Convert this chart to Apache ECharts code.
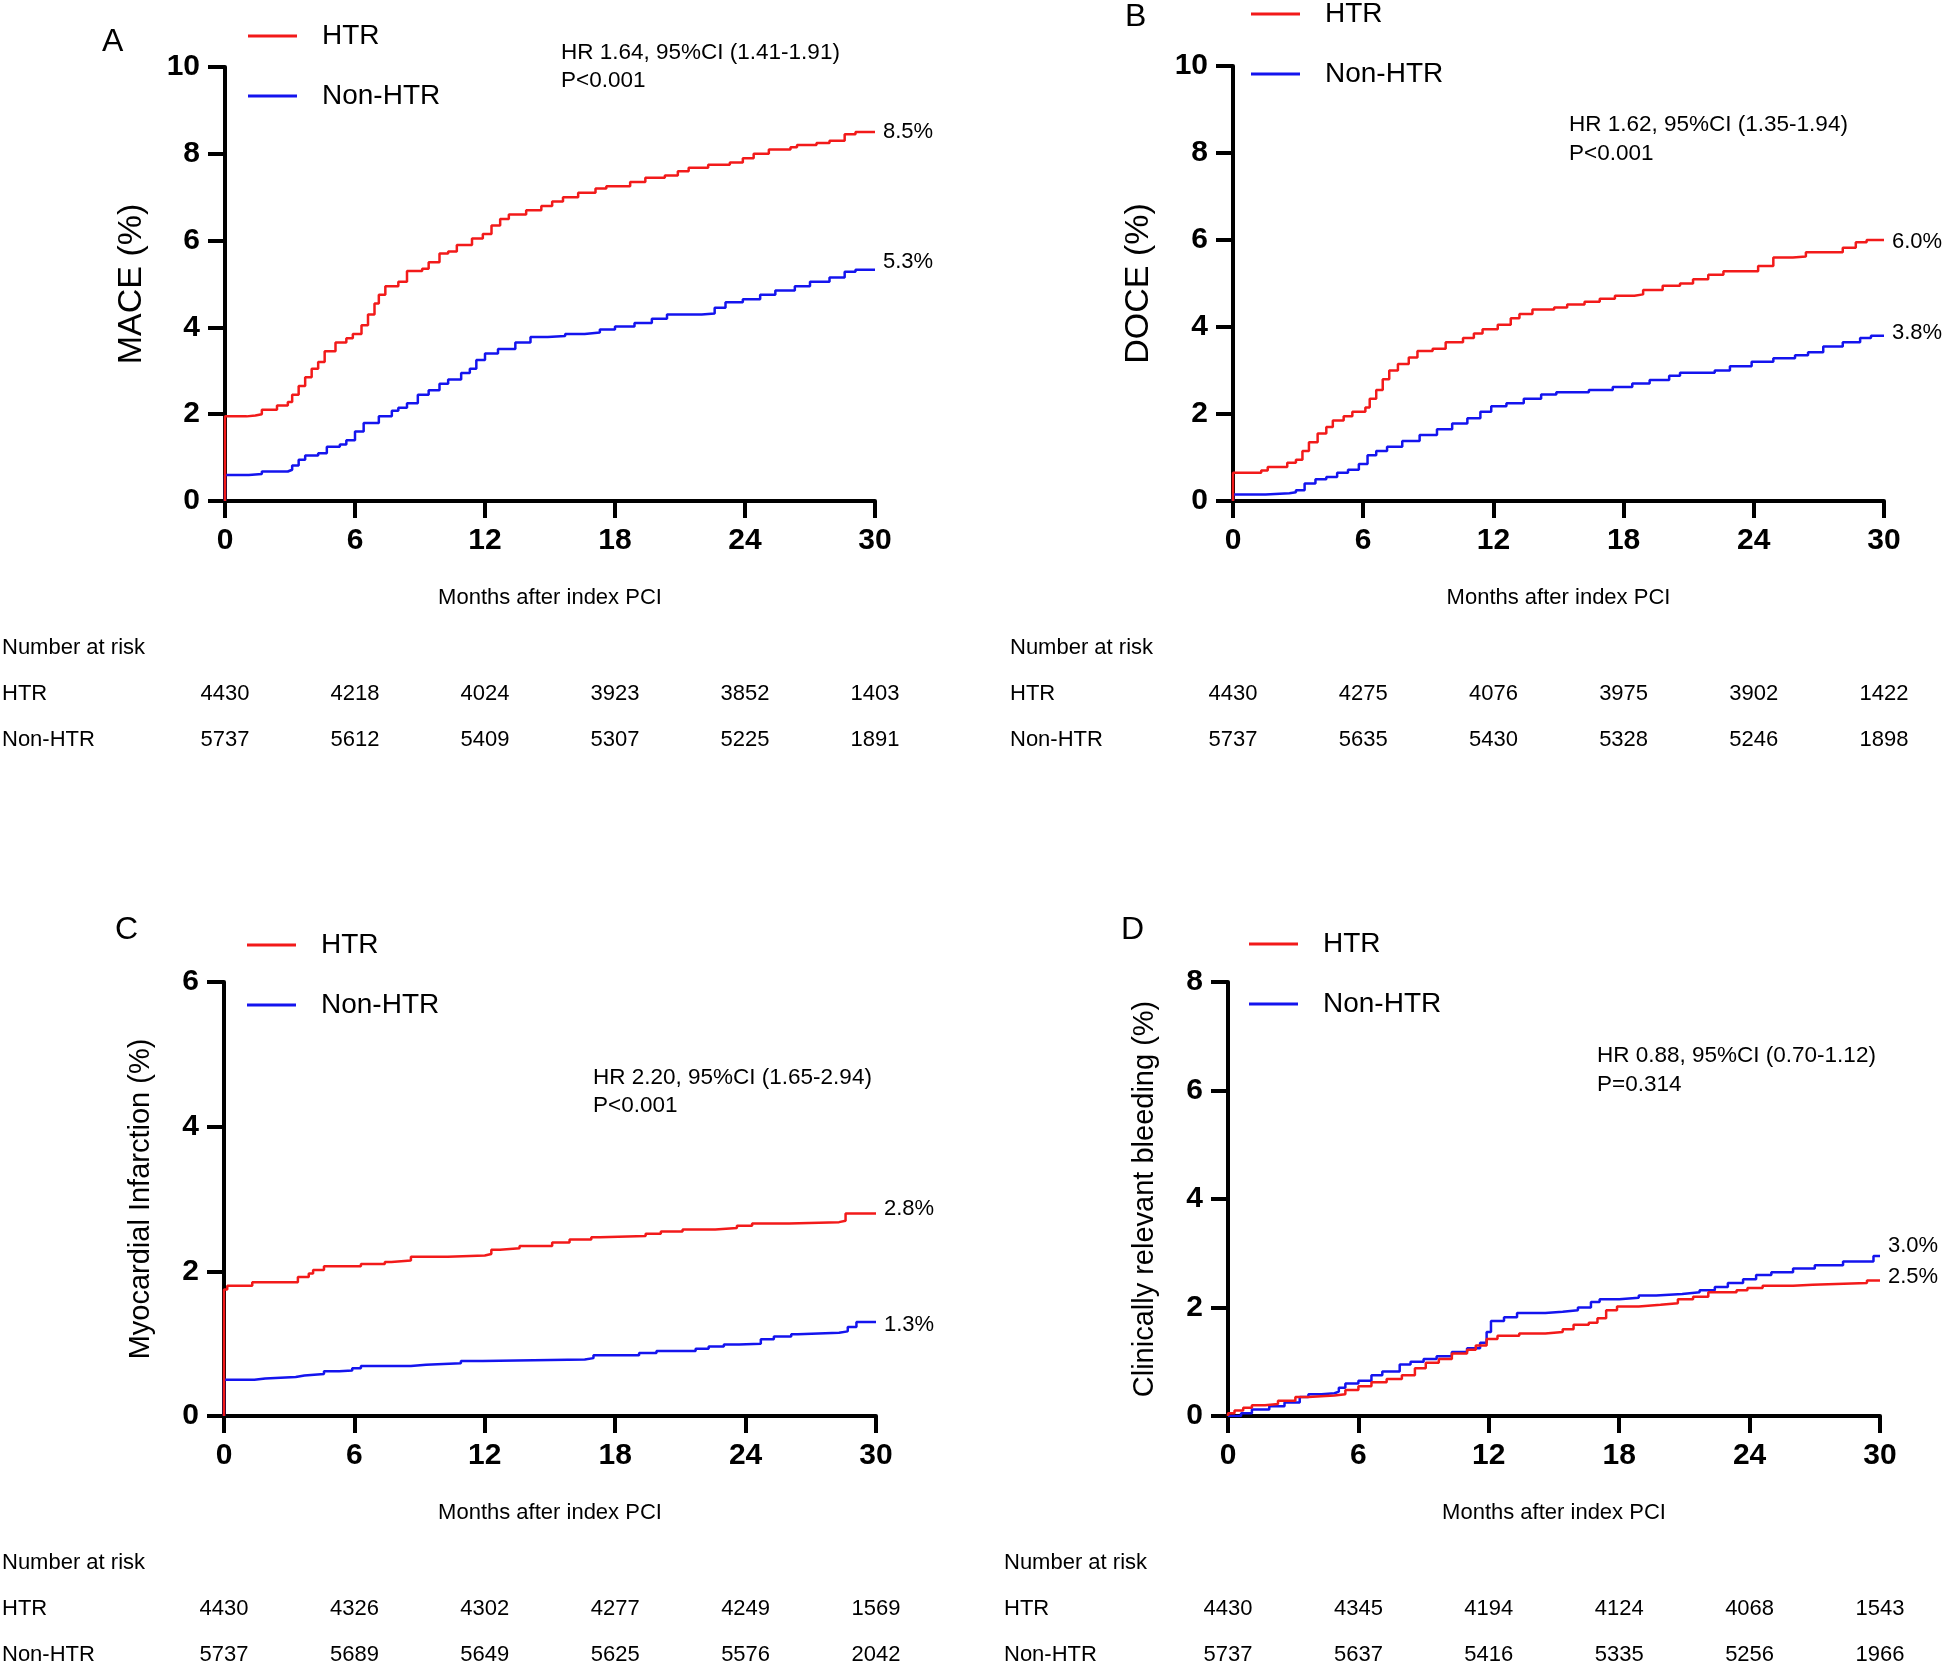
<!DOCTYPE html>
<html><head><meta charset="utf-8">
<script src="https://cdn.jsdelivr.net/npm/echarts@6/dist/echarts.min.js"></script>
<style>html,body{margin:0;padding:0;background:#fff}#c{width:1946px;height:1667px}</style>
</head><body><div id="c"></div>
<script>
// ---------------- DATA ----------------
const monthTicks = [0, 6, 12, 18, 24, 30];
const groups = ['HTR', 'Non-HTR'];

const maceHTR = [[0,0],[0,1.95],[1.0,1.97],[1.4,2.0],[1.7,2.1],[2.4,2.2],[2.9,2.28],[3.1,2.45],[3.4,2.65],[3.7,2.85],[4.0,3.05],[4.3,3.2],[4.6,3.45],[5.1,3.65],[5.6,3.75],[5.9,3.85],[6.3,4.05],[6.6,4.3],[6.9,4.55],[7.1,4.75],[7.4,4.95],[8.0,5.05],[8.4,5.3],[9.1,5.35],[9.4,5.5],[9.9,5.7],[10.3,5.75],[10.7,5.9],[11.4,6.05],[11.9,6.15],[12.3,6.35],[12.7,6.5],[13.1,6.6],[13.9,6.7],[14.6,6.8],[15.1,6.9],[15.6,7.0],[16.3,7.1],[17.1,7.2],[17.6,7.25],[18.7,7.35],[19.4,7.45],[20.3,7.5],[20.9,7.6],[21.4,7.68],[22.3,7.75],[23.3,7.8],[23.9,7.9],[24.4,8.0],[25.1,8.1],[26.1,8.15],[26.4,8.2],[27.3,8.25],[27.9,8.3],[28.6,8.45],[29.1,8.5],[30,8.5]];
const maceNon = [[0,0],[0,0.6],[1.1,0.62],[1.7,0.68],[2.9,0.72],[3.1,0.82],[3.4,0.95],[3.7,1.05],[4.3,1.1],[4.7,1.25],[5.3,1.3],[5.6,1.4],[6.0,1.6],[6.4,1.8],[7.1,1.95],[7.7,2.08],[8.0,2.15],[8.4,2.25],[8.9,2.45],[9.4,2.55],[9.9,2.7],[10.3,2.8],[10.9,2.95],[11.3,3.05],[11.6,3.25],[12.0,3.4],[12.6,3.5],[13.4,3.65],[14.1,3.78],[14.9,3.8],[15.7,3.85],[16.6,3.88],[17.3,3.95],[18.0,4.02],[18.9,4.1],[19.7,4.2],[20.4,4.3],[22.0,4.32],[22.6,4.45],[23.1,4.58],[23.9,4.65],[24.7,4.75],[25.4,4.85],[26.3,4.95],[27.0,5.05],[27.9,5.15],[28.6,5.28],[29.1,5.33],[30,5.33]];

const doceHTR = [[0,0],[0,0.65],[1.3,0.7],[1.6,0.78],[2.5,0.88],[2.9,0.95],[3.2,1.15],[3.5,1.35],[3.9,1.55],[4.3,1.7],[4.6,1.85],[5.1,1.95],[5.5,2.05],[6.1,2.15],[6.3,2.35],[6.6,2.55],[6.9,2.8],[7.2,3.0],[7.6,3.15],[8.1,3.3],[8.5,3.45],[9.2,3.5],[9.8,3.65],[10.6,3.75],[11.1,3.85],[11.5,3.95],[12.2,4.05],[12.8,4.2],[13.2,4.3],[13.8,4.4],[14.8,4.45],[15.4,4.52],[16.2,4.58],[16.9,4.65],[17.6,4.72],[18.5,4.75],[18.9,4.85],[19.8,4.95],[20.6,5.0],[21.2,5.1],[21.9,5.2],[22.6,5.28],[24.2,5.4],[24.9,5.6],[25.8,5.62],[26.4,5.72],[28.1,5.82],[28.7,5.95],[29.2,6.0],[30,6.0]];
const doceNon = [[0,0],[0,0.15],[1.5,0.18],[2.6,0.2],[2.9,0.25],[3.3,0.4],[3.8,0.5],[4.3,0.55],[4.8,0.65],[5.3,0.72],[5.8,0.85],[6.2,1.05],[6.6,1.15],[7.1,1.25],[7.8,1.38],[8.6,1.52],[9.4,1.65],[10.1,1.78],[10.8,1.9],[11.4,2.05],[11.9,2.18],[12.6,2.25],[13.4,2.35],[14.2,2.45],[14.9,2.5],[16.4,2.55],[17.5,2.62],[18.4,2.7],[19.2,2.78],[20.1,2.88],[20.6,2.95],[22.2,3.0],[22.9,3.1],[23.9,3.2],[24.9,3.28],[25.9,3.35],[26.5,3.42],[27.2,3.55],[28.1,3.65],[28.9,3.75],[29.4,3.8],[30,3.8]];

const miHTR = [[0,0],[0,1.75],[0.15,1.8],[1.3,1.85],[3.4,1.92],[3.9,1.97],[4.1,2.02],[4.6,2.07],[6.3,2.1],[7.4,2.13],[7.7,2.15],[8.6,2.2],[10.3,2.22],[12.0,2.24],[12.3,2.3],[12.7,2.32],[13.6,2.35],[15.1,2.4],[15.9,2.44],[16.9,2.47],[17.3,2.49],[19.4,2.52],[20.1,2.55],[21.1,2.58],[22.6,2.6],[23.6,2.63],[24.3,2.66],[26.0,2.68],[28.3,2.7],[28.6,2.8],[30,2.8]];
const miNon = [[0,0],[0,0.5],[1.4,0.52],[1.9,0.54],[3.3,0.56],[3.7,0.58],[4.6,0.62],[5.3,0.63],[5.9,0.66],[6.3,0.69],[8.6,0.71],[9.3,0.73],[10.9,0.76],[11.9,0.78],[16.6,0.8],[17.0,0.84],[19.1,0.87],[19.9,0.9],[21.7,0.93],[22.3,0.96],[23.0,0.99],[23.7,1.0],[24.7,1.06],[25.3,1.1],[26.1,1.13],[26.4,1.15],[28.3,1.17],[28.7,1.23],[29.1,1.3],[30,1.3]];

const bleedHTR = [[0,0],[0,0.05],[0.3,0.1],[0.7,0.15],[1.1,0.2],[1.7,0.22],[2.3,0.28],[3.1,0.35],[3.7,0.38],[4.9,0.4],[5.4,0.48],[6.0,0.55],[6.6,0.62],[7.3,0.68],[8.0,0.75],[8.6,0.88],[9.1,0.98],[9.7,1.05],[10.3,1.15],[11.0,1.22],[11.4,1.3],[11.9,1.42],[12.4,1.48],[13.4,1.52],[14.6,1.55],[15.4,1.6],[15.9,1.68],[16.6,1.72],[17.0,1.8],[17.4,1.95],[17.9,2.02],[18.9,2.05],[19.9,2.08],[20.7,2.15],[21.4,2.2],[22.1,2.28],[23.4,2.32],[23.9,2.36],[24.6,2.4],[26.0,2.42],[26.9,2.45],[29.4,2.5],[30,2.5]];
const bleedNon = [[0,0],[0.6,0.05],[1.1,0.12],[1.9,0.18],[2.6,0.25],[3.3,0.35],[3.7,0.4],[4.3,0.42],[4.9,0.45],[5.1,0.52],[5.4,0.6],[6.0,0.65],[6.6,0.75],[7.1,0.82],[7.9,0.95],[8.4,1.0],[9.0,1.05],[9.6,1.1],[10.3,1.18],[11.0,1.25],[11.6,1.35],[11.9,1.55],[12.1,1.75],[12.7,1.82],[13.3,1.9],[14.6,1.92],[15.4,1.95],[16.1,2.0],[16.7,2.1],[17.1,2.15],[18.0,2.18],[18.9,2.22],[19.7,2.25],[20.9,2.28],[21.7,2.32],[22.4,2.38],[23.0,2.45],[23.7,2.52],[24.3,2.6],[25.0,2.65],[26.0,2.72],[27.0,2.78],[28.3,2.85],[29.7,2.95],[30,2.95]];

const riskMaceHTR = [4430, 4218, 4024, 3923, 3852, 1403];
const riskMaceNon = [5737, 5612, 5409, 5307, 5225, 1891];
const riskDoceHTR = [4430, 4275, 4076, 3975, 3902, 1422];
const riskDoceNon = [5737, 5635, 5430, 5328, 5246, 1898];
const riskMiHTR = [4430, 4326, 4302, 4277, 4249, 1569];
const riskMiNon = [5737, 5689, 5649, 5625, 5576, 2042];
const riskBleedHTR = [4430, 4345, 4194, 4124, 4068, 1543];
const riskBleedNon = [5737, 5637, 5416, 5335, 5256, 1966];

const endLabels = [['8.5%', '5.3%'], ['6.0%', '3.8%'], ['2.8%', '1.3%'], ['2.5%', '3.0%']];
const yTitles = ['MACE (%)', 'DOCE (%)', 'Myocardial Infarction (%)', 'Clinically relevant bleeding (%)'];
const yMax = [10, 10, 6, 8];
const panelLetters = ['A', 'B', 'C', 'D'];
const hrLines = [
  ['HR 1.64, 95%CI (1.41-1.91)', 'P<0.001'],
  ['HR 1.62, 95%CI (1.35-1.94)', 'P<0.001'],
  ['HR 2.20, 95%CI (1.65-2.94)', 'P<0.001'],
  ['HR 0.88, 95%CI (0.70-1.12)', 'P=0.314']
];
const xTitle = 'Months after index PCI';
const riskTitle = 'Number at risk';

// ---------------- LAYOUT ----------------
const FONT = "'Liberation Sans', Arial, sans-serif";
const RED = '#f21a1a', BLUE = '#1414ee';
const panels = [
  { grid: {left: 225, top: 67, width: 650, height: 434}, curves: [maceHTR, maceNon], risk: [riskMaceHTR, riskMaceNon],
    nameGap: 76, nameSize: 34, legend: {left: 248, top: 22}, letter: [102, 42], hr: [561, 53, 81],
    riskLeft: 2, riskY: [648, 694, 740], labOff: [[0, 0], [0, -8]] },
  { grid: {left: 1233, top: 66, width: 651, height: 435}, curves: [doceHTR, doceNon], risk: [riskDoceHTR, riskDoceNon],
    nameGap: 77, nameSize: 34, legend: {left: 1251, top: 0}, letter: [1125, 17], hr: [1569, 125, 154],
    riskLeft: 1010, riskY: [648, 694, 740], labOff: [[0, 2], [0, -3]] },
  { grid: {left: 224, top: 982, width: 652, height: 434}, curves: [miHTR, miNon], risk: [riskMiHTR, riskMiNon],
    nameGap: 69, nameSize: 29, legend: {left: 247, top: 931}, letter: [115, 930], hr: [593, 1078, 1106],
    riskLeft: 2, riskY: [1563, 1609, 1655], labOff: [[0, -5], [0, 3]] },
  { grid: {left: 1228, top: 982, width: 652, height: 434}, curves: [bleedHTR, bleedNon], risk: [riskBleedHTR, riskBleedNon],
    nameGap: 69, nameSize: 29, legend: {left: 1249, top: 930}, letter: [1121, 930], hr: [1597, 1056, 1085],
    riskLeft: 1004, riskY: [1563, 1609, 1655], labOff: [[0, -3], [0, -10]] }
];

const chart = echarts.init(document.getElementById('c'), null, {renderer: 'canvas'});

const option = {
  animation: false,
  backgroundColor: '#fff',
  textStyle: {fontFamily: FONT},
  grid: [], xAxis: [], yAxis: [], series: [], legend: []
};

panels.forEach((p, i) => {
  option.grid.push(Object.assign({containLabel: false}, p.grid));
  option.xAxis.push({
    type: 'value', gridIndex: i, min: 0, max: 30, interval: 6,
    name: xTitle, nameLocation: 'middle', nameGap: 86,
    nameTextStyle: {fontSize: 22, color: '#000', fontFamily: FONT},
    axisLine: {show: true, onZero: false, lineStyle: {color: '#000', width: 4}},
    axisTick: {show: true, length: 17, inside: false, lineStyle: {color: '#000', width: 4}},
    axisLabel: {show: true, margin: 25, fontSize: 30, fontWeight: 'bold', color: '#000', fontFamily: FONT},
    splitLine: {show: false}
  });
  option.yAxis.push({
    type: 'value', gridIndex: i, min: 0, max: yMax[i], interval: 2,
    name: yTitles[i], nameLocation: 'middle', nameGap: p.nameGap, nameRotate: 90,
    nameTextStyle: {fontSize: p.nameSize, color: '#000', fontFamily: FONT},
    axisLine: {show: true, onZero: false, lineStyle: {color: '#000', width: 4}},
    axisTick: {show: true, length: 17, inside: false, lineStyle: {color: '#000', width: 4}},
    axisLabel: {show: true, margin: 25, fontSize: 30, fontWeight: 'bold', color: '#000', fontFamily: FONT},
    splitLine: {show: false}
  });
  p.curves.forEach((data, k) => {
    option.series.push({
      type: 'line', name: groups[k], xAxisIndex: i, yAxisIndex: i,
      data: data, step: 'end', showSymbol: false, symbol: 'none',
      lineStyle: {width: 2.5, color: k === 0 ? RED : BLUE},
      itemStyle: {color: k === 0 ? RED : BLUE},
      z: k === 0 ? 4 : 3,
      endLabel: {show: true, formatter: endLabels[i][k], distance: 8, offset: p.labOff[k],
        fontSize: 22, color: '#000', fontFamily: FONT},
      emphasis: {disabled: true}, silent: true
    });
  });
  option.legend.push({
    show: true, orient: 'vertical', left: p.legend.left, top: p.legend.top, padding: 0,
    itemGap: 32, itemWidth: 49, itemHeight: 3, icon: 'rect',
    data: groups, selectedMode: false,
    textStyle: {fontSize: 28, lineHeight: 28, color: '#000', fontFamily: FONT, padding: [0, 0, 0, 20]}
  });
});

chart.setOption(option);

// ---------- annotations positioned via axis scales ----------
const graphic = [];
panels.forEach((p, i) => {
  graphic.push({type: 'text', x: p.letter[0], y: p.letter[1],
    style: {text: panelLetters[i], fontSize: 32, fontFamily: FONT, fill: '#000', verticalAlign: 'middle', align: 'left'}});
  graphic.push({type: 'text', x: p.hr[0], y: p.hr[1],
    style: {text: hrLines[i][0], fontSize: 22.5, fontFamily: FONT, fill: '#000', verticalAlign: 'middle', align: 'left'}});
  graphic.push({type: 'text', x: p.hr[0], y: p.hr[2],
    style: {text: hrLines[i][1], fontSize: 22.5, fontFamily: FONT, fill: '#000', verticalAlign: 'middle', align: 'left'}});
  const rowNames = [riskTitle].concat(groups);
  rowNames.forEach((t, r) => {
    graphic.push({type: 'text', x: p.riskLeft, y: p.riskY[r],
      style: {text: t, fontSize: 22, fontFamily: FONT, fill: '#000', verticalAlign: 'middle', align: 'left'}});
  });
  p.risk.forEach((row, r) => {
    row.forEach((v, j) => {
      const px = chart.convertToPixel({xAxisIndex: i}, monthTicks[j]);
      graphic.push({type: 'text', x: px, y: p.riskY[r + 1],
        style: {text: String(v), fontSize: 22, fontFamily: FONT, fill: '#000', verticalAlign: 'middle', align: 'center'}});
    });
  });
});
chart.setOption({graphic: graphic});
</script>
</body></html>
